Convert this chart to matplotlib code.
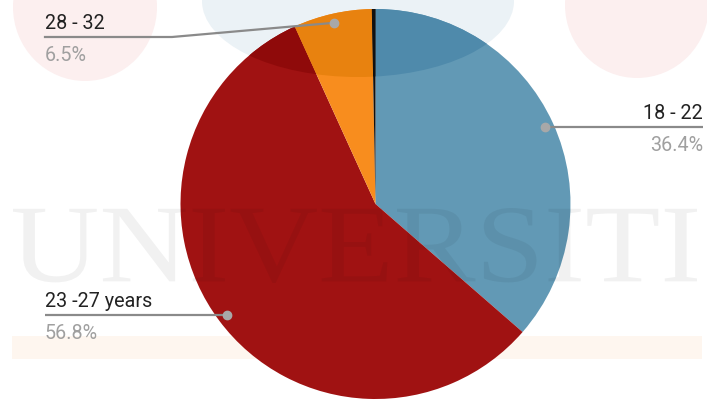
import numpy as np
import matplotlib
matplotlib.use("Agg")
import matplotlib.pyplot as plt
from matplotlib.patches import Ellipse, Rectangle, PathPatch
from matplotlib.path import Path
from matplotlib.textpath import TextPath
from matplotlib.font_manager import FontProperties
from matplotlib.transforms import Affine2D

# ---- data ----
categories = ["18 - 22", "23 -27 years", "28 - 32", "33 and above"]
shares = [36.4, 56.8, 6.5, 0.3]
pct_labels = ["36.4%", "56.8%", "6.5%", ""]
colors = ["#6299b5", "#a01212", "#f88d1e", "#111111"]
overlay_colors = ["#4f8aab", "#8f0a0a", "#e8820f", "#111111"]

W, H = 707, 402
fig = plt.figure(figsize=(W / 100, H / 100), dpi=100)
ax = fig.add_axes([0, 0, 1, 1])
ax.set_xlim(0, W)
ax.set_ylim(0, H)
ax.axis("off")

def Y(y):
    return H - y

# ---- faint background decoration ----
ax.add_patch(Ellipse((85, Y(8)), 144, 148, color="#fcefef", zorder=0, lw=0))
ax.add_patch(Ellipse((637, Y(6)), 144, 146, color="#fcefef", zorder=0, lw=0))
ecx, ecy, ew, eh = 358, Y(2), 312, 152
ax.add_patch(Ellipse((ecx, ecy), ew, eh, color="#ebf2f6", zorder=0, lw=0))
ax.add_patch(Rectangle((12, Y(360)), 690, 23, color="#fef6ef", zorder=0, lw=0))

# ---- pie ----
cx, cy, R = 375.5, Y(205), 195
wedges, _ = ax.pie(shares, colors=colors, startangle=90, counterclock=False,
                   center=(cx, cy), radius=R, wedgeprops=dict(linewidth=0))
for w in wedges:
    w.set_zorder(2)

# darker tint where the top ellipse overlaps the pie
ell_path = Path.unit_circle().transformed(
    Affine2D().scale(ew / 2, eh / 2).translate(ecx, ecy))
wedges2, _ = ax.pie(shares, colors=overlay_colors, startangle=90, counterclock=False,
                    center=(cx, cy), radius=R, wedgeprops=dict(linewidth=0))
for w in wedges2:
    w.set_zorder(3)
    w.set_clip_on(True)
    w.set_clip_path(ell_path, ax.transData)

ax.set_xlim(0, W)
ax.set_ylim(0, H)
ax.set_aspect("auto")

# ---- watermark text ----
fp = FontProperties(family="Liberation Serif")
tp = TextPath((0, 0), "UNIVERSITI", size=100, prop=fp)
bb = tp.get_extents()
x0, x1, ytop, ybot = 13, 697, 209, 284
sx = (x1 - x0) / bb.width
sy = (ybot - ytop) / bb.height
trans = Affine2D().translate(-bb.x0, -bb.y0).scale(sx, sy).translate(x0, Y(ybot)) + ax.transData
ax.add_patch(PathPatch(tp, transform=trans, facecolor="black", alpha=0.055, lw=0, zorder=4))

# ---- labels ----
font = "Roboto"
lab_color = "#222222"
pct_color = "#a0a0a0"
line_color = "#8a8a8a"
dot_color = "#a8a8a8"

def dot_pos(w):
    mid = np.deg2rad((w.theta1 + w.theta2) / 2)
    return cx + 0.953 * R * np.cos(mid), cy + 0.953 * R * np.sin(mid)

# 18 - 22 (right)
dx, dy = dot_pos(wedges[0])
ax.plot([dx, 703], [dy, dy], color=line_color, lw=1.6, zorder=5, solid_capstyle="butt")
ax.plot(dx, dy, "o", ms=6, color=dot_color, zorder=6)
ax.text(703, dy + 9, categories[0], ha="right", va="baseline", fontsize=14.2,
        family=font, color=lab_color, zorder=6)
ax.text(703, dy - 23, pct_labels[0], ha="right", va="baseline", fontsize=14.2,
        family=font, color=pct_color, zorder=6)

# 23 -27 years (left)
dx, dy = dot_pos(wedges[1])
ax.plot([45, dx], [dy, dy], color=line_color, lw=1.6, zorder=5, solid_capstyle="butt")
ax.plot(dx, dy, "o", ms=6, color=dot_color, zorder=6)
ax.text(45, dy + 9, categories[1], ha="left", va="baseline", fontsize=14.2,
        family=font, color=lab_color, zorder=6)
ax.text(45, dy - 23, pct_labels[1], ha="left", va="baseline", fontsize=14.2,
        family=font, color=pct_color, zorder=6)

# 28 - 32 (left, elbow)
dx, dy = dot_pos(wedges[2])
ly = Y(38)
ax.plot([45, 172, dx], [ly, ly, dy], color=line_color, lw=1.6, zorder=5)
ax.plot(dx, dy, "o", ms=6, color=dot_color, zorder=6)
ax.text(45, ly + 9, categories[2], ha="left", va="baseline", fontsize=14.2,
        family=font, color=lab_color, zorder=6)
ax.text(45, ly - 23, pct_labels[2], ha="left", va="baseline", fontsize=14.2,
        family=font, color=pct_color, zorder=6)

fig.savefig("out.png", dpi=100, facecolor="white")
